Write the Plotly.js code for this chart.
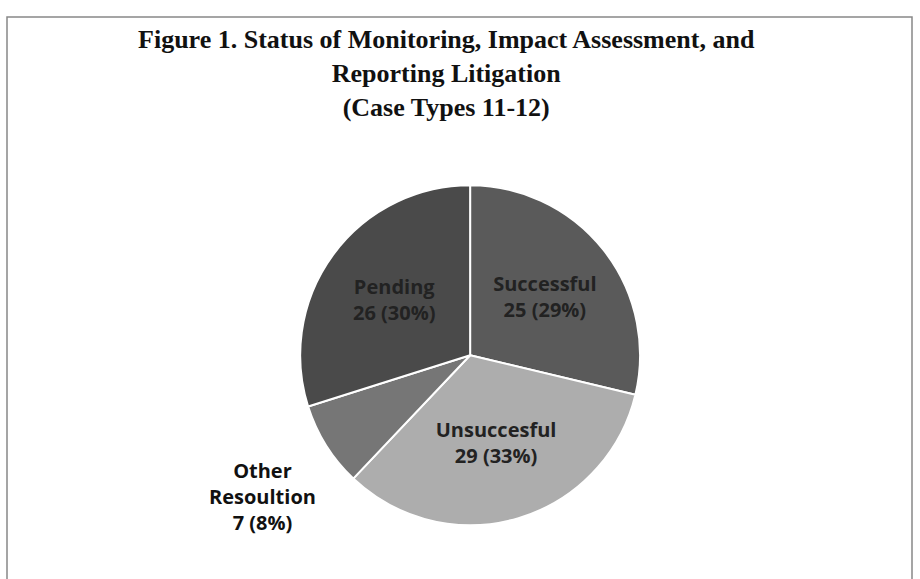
<!DOCTYPE html>
<html>
<head>
<meta charset="utf-8">
<script src="https://cdn.plot.ly/plotly-3.0.1.min.js"></script>
<style>html,body{margin:0;padding:0;background:#fff;}#chart{width:920px;height:579px;}</style>
</head>
<body>
<div id="chart"></div>
<script>
var categories = ["Successful", "Unsuccesful", "Other<br>Resoultion", "Pending"];
var counts = [25, 29, 7, 26];
var sliceColors = ["#5a5a5a", "#adadad", "#767676", "#4a4a4a"];
var textPositions = ["inside", "inside", "none", "inside"];
var titleText = "<b>Figure 1. Status of Monitoring, Impact Assessment, and<br>Reporting Litigation<br>(Case Types 11-12)</b>";

var total = counts.reduce(function (a, b) { return a + b; }, 0);
var otherIdx = 2;
var otherLabel = "<b>" + categories[otherIdx] + "<br>" + counts[otherIdx] + " (" +
  Math.round(100 * counts[otherIdx] / total) + "%)</b>";

var trace = {
  type: "pie",
  labels: categories,
  values: counts,
  sort: false,
  direction: "clockwise",
  rotation: 0,
  marker: {colors: sliceColors, line: {color: "#ffffff", width: 2}},
  texttemplate: "<b>%{label}<br>%{value} (%{percent:.0%})</b>",
  textposition: textPositions,
  insidetextorientation: "horizontal",
  insidetextfont: {family: "Open Sans, sans-serif", size: 20, color: "#222222"},
  textfont: {family: "Open Sans, sans-serif", size: 20},
  hoverinfo: "none",
  showlegend: false,
  domain: {x: [0.326, 0.696], y: [0.093, 0.68]}
};

var layout = {
  width: 920, height: 579,
  margin: {l: 0, r: 0, t: 0, b: 0},
  paper_bgcolor: "#ffffff",
  title: {
    text: titleText,
    font: {family: "Liberation Serif, serif", size: 26, color: "#111111"},
    x: 0.485, xanchor: "center",
    y: 1 - 48/579, yanchor: "top", yref: "container"
  },
  annotations: [{
    text: otherLabel,
    xref: "paper", yref: "paper",
    x: 262/920, y: 1 - 496/579,
    xanchor: "center", yanchor: "middle",
    showarrow: false,
    font: {family: "Open Sans, sans-serif", size: 20, color: "#111111"}
  }],
  shapes: [{
    type: "rect", xref: "paper", yref: "paper",
    x0: 7/920, x1: 912/920, y0: -0.05, y1: 1 - 17/579,
    line: {color: "#888888", width: 1.5}
  }]
};

Plotly.newPlot("chart", [trace], layout, {displayModeBar: false, staticPlot: true});
</script>
</body>
</html>
